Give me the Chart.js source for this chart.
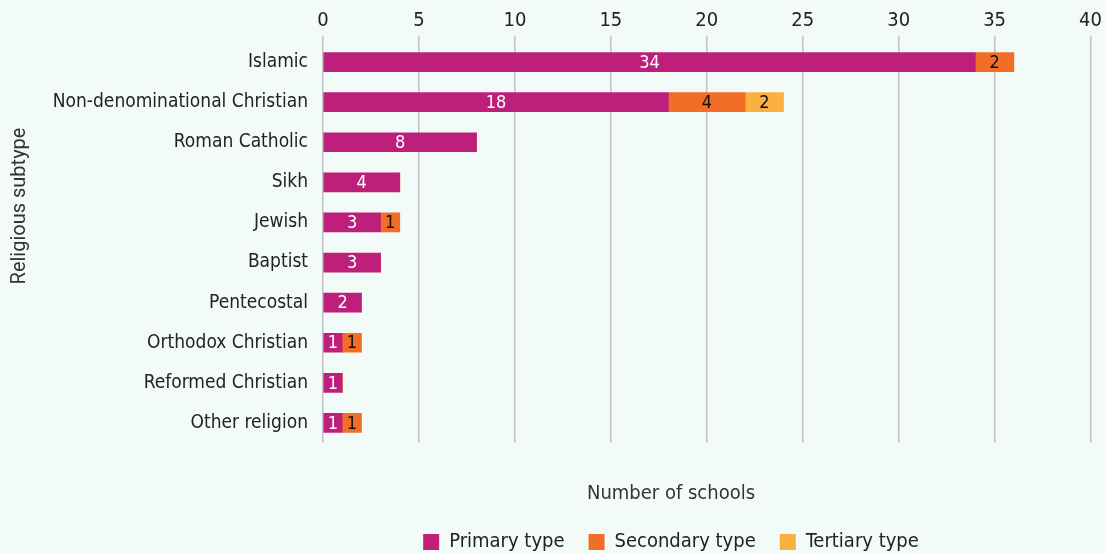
<!DOCTYPE html>
<html>
<head>
<meta charset="utf-8">
<script src="https://cdn.jsdelivr.net/npm/chart.js@4"></script>
<style>
  html, body { margin: 0; padding: 0; background: #f3fbf9; }
  #wrap { width: 1105px; height: 554px; }
</style>
</head>
<body>
<div id="wrap"><canvas id="chart"></canvas></div>
<script>
const categories = ["Islamic", "Non-denominational Christian", "Roman Catholic", "Sikh", "Jewish",
  "Baptist", "Pentecostal", "Orthodox Christian", "Reformed Christian", "Other religion"];
const seriesNames = ["Primary type", "Secondary type", "Tertiary type"];
const primary = [34, 18, 8, 4, 3, 3, 2, 1, 1, 1];
const secondary = [2, 4, 0, 0, 1, 0, 0, 1, 0, 1];
const tertiary = [0, 2, 0, 0, 0, 0, 0, 0, 0, 0];
const xTicks = [0, 5, 10, 15, 20, 25, 30, 35, 40];
const colors = ["#bd1f7b", "#f26e26", "#fbb042"];

const narrow = '"DejaVu Sans Condensed", "Liberation Sans Narrow", sans-serif';
const gridColor = "#bfc3c2";

// value labels centred in each segment
const barLabels = {
  id: "barLabels",
  afterDatasetsDraw(chart) {
    const ctx = chart.ctx;
    ctx.save();
    ctx.font = "18px " + narrow;
    ctx.textAlign = "center";
    ctx.textBaseline = "middle";
    chart.data.datasets.forEach((ds, i) => {
      const meta = chart.getDatasetMeta(i);
      meta.data.forEach((bar, j) => {
        const v = ds.data[j];
        if (!v) return;
        ctx.fillStyle = i === 0 ? "#ffffff" : "#111111";
        ctx.fillText(String(v), (bar.x + bar.base) / 2, bar.y + 1);
      });
    });
    ctx.restore();
  }
};

// axis titles and legend, placed where the original has them
const extras = {
  id: "extras",
  afterDraw(chart) {
    const ctx = chart.ctx;
    ctx.save();
    ctx.textBaseline = "middle";

    // y title
    ctx.save();
    ctx.translate(20, 206);
    ctx.rotate(-Math.PI / 2);
    ctx.textAlign = "center";
    ctx.fillStyle = "#333";
    ctx.font = "20px Roboto";
    ctx.fillText("Religious subtype", 0, 0);
    ctx.restore();

    // x title
    ctx.font = "20px " + narrow;
    ctx.textAlign = "center";
    ctx.fillStyle = "#333";
    ctx.fillText("Number of schools", 671, 494);

    // legend
    ctx.textAlign = "left";
    const box = 16, gap = 10, spacing = 24;
    const widths = seriesNames.map(n => ctx.measureText(n).width);
    const total = widths.reduce((a, w) => a + box + gap + w, 0) + spacing * (seriesNames.length - 1);
    let x = 671 - total / 2;
    seriesNames.forEach((n, i) => {
      ctx.fillStyle = colors[i];
      ctx.fillRect(x, 534, box, box);
      ctx.fillStyle = "#222";
      ctx.fillText(n, x + box + gap, 542);
      x += box + gap + widths[i] + spacing;
    });
    ctx.restore();
  }
};

new Chart(document.getElementById("chart"), {
  type: "bar",
  data: {
    labels: categories,
    datasets: [
      { label: seriesNames[0], data: primary, backgroundColor: colors[0] },
      { label: seriesNames[1], data: secondary, backgroundColor: colors[1] },
      { label: seriesNames[2], data: tertiary, backgroundColor: colors[2] }
    ]
  },
  options: {
    indexAxis: "y",
    responsive: true,
    maintainAspectRatio: false,
    animation: false,
    barThickness: 19,
    layout: { padding: { left: 0, right: 4, top: 6, bottom: 111 } },
    scales: {
      x: {
        stacked: true,
        position: "top",
        min: 0,
        max: 40,
        afterBuildTicks: (s) => { s.ticks = xTicks.map(v => ({ value: v })); },
        afterFit: (s) => { s.height = 36; },
        grid: { color: gridColor, lineWidth: 1.5, tickLength: 6, tickColor: gridColor },
        border: { display: false },
        ticks: { color: "#222", font: { family: narrow, size: 20 }, padding: 3 }
      },
      y: {
        stacked: true,
        afterFit: (s) => { s.width = 323; },
        grid: { display: false },
        border: { display: false },
        ticks: { color: "#222", font: { family: narrow, size: 19 }, padding: 7 }
      }
    },
    plugins: {
      legend: { display: false },
      tooltip: { enabled: false }
    }
  },
  plugins: [barLabels, extras]
});
</script>
</body>
</html>
